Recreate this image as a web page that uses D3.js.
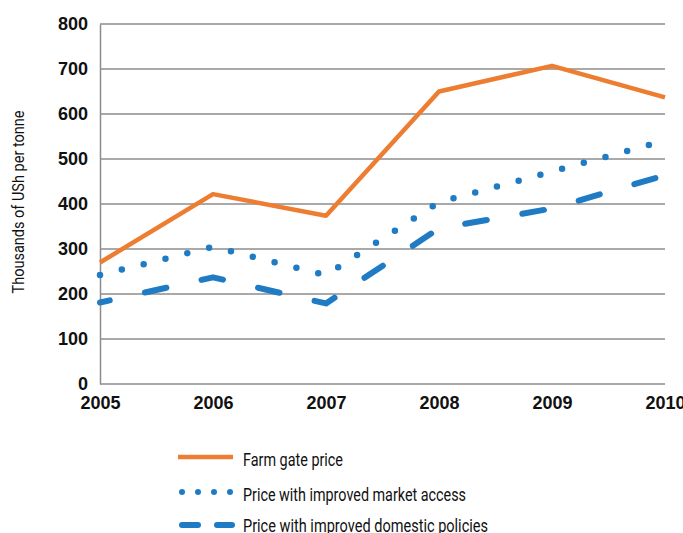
<!DOCTYPE html>
<html>
<head>
<meta charset="utf-8">
<script src="https://cdn.jsdelivr.net/npm/d3@7"></script>
<style>
  body { margin: 0; background: #fff; }
  .tick text { font-family: "Liberation Sans", Arial, sans-serif; font-weight: bold; }
  .lbl { font-family: Roboto, "Open Sans", sans-serif; }
</style>
</head>
<body>
<script>
var w = 683;
var h = 533;

var margin = { top: 24, left: 100, right: 18, bottom: 149 };

var years = [2005, 2006, 2007, 2008, 2009, 2010];
var farmGate = [270, 422, 374, 650, 707, 637];
var marketAccess = [242, 305, 242, 404, 472, 541];
var domestic = [181, 237, 179, 346, 390, 464];
var yTicks = [0, 100, 200, 300, 400, 500, 600, 700, 800];

var orange = "#ED7D31";
var blue = "#1F7BC4";

var x = d3.scaleLinear()
  .domain([2005, 2010])
  .range([margin.left, w - margin.right]);

var y = d3.scaleLinear()
  .domain([0, 800])
  .range([h - margin.bottom, margin.top]);

var svg = d3.select("body").append("svg")
  .attr("width", w)
  .attr("height", h);

// gridlines
svg.append("g")
  .selectAll("line")
  .data(yTicks)
  .enter()
  .append("line")
  .attr("x1", x(2005))
  .attr("x2", x(2010))
  .attr("y1", function (d) { return y(d); })
  .attr("y2", function (d) { return y(d); })
  .attr("stroke", "#8c8c8c")
  .attr("stroke-width", 1.5);

// y axis
var yAxis = svg.append("g")
  .attr("transform", "translate(" + x(2005) + ",0)")
  .call(d3.axisLeft(y).tickValues(yTicks).tickSize(0).tickPadding(12));
yAxis.select(".domain").attr("stroke", "#8c8c8c").attr("stroke-width", 1.5);
yAxis.selectAll("text").attr("font-size", 18).attr("fill", "#111");

// x axis (labels only)
var xAxis = svg.append("g")
  .attr("transform", "translate(0," + y(0) + ")")
  .call(d3.axisBottom(x).tickValues(years).tickFormat(d3.format("d")).tickSize(0).tickPadding(12));
xAxis.select(".domain").remove();
xAxis.selectAll("text").attr("font-size", 18).attr("fill", "#111");

svg.append("text")
  .attr("class", "lbl")
  .attr("transform", "translate(24,202) rotate(-90)")
  .attr("text-anchor", "middle")
  .attr("font-size", 17)
  .attr("textLength", 183)
  .attr("lengthAdjust", "spacingAndGlyphs")
  .attr("fill", "#111")
  .text("Thousands of USh per tonne");

var line = d3.line()
  .x(function (d, i) { return x(years[i]); })
  .y(function (d) { return y(d); });

var series = [
  { name: "Farm gate price", values: farmGate, color: orange, width: 4.5, dash: null, cap: "butt", len: 100 },
  { name: "Price with improved market access", values: marketAccess, color: blue, width: 6.5, dash: "0 22.5", cap: "round", len: 223 },
  { name: "Price with improved domestic policies", values: domestic, color: blue, width: 6, dash: "22 36", cap: "round", offset: 12, len: 245 }
];

series.slice().reverse().forEach(function (s) {
  svg.append("path")
    .datum(s.values)
    .attr("d", line)
    .attr("fill", "none")
    .attr("stroke", s.color)
    .attr("stroke-width", s.width)
    .attr("stroke-linecap", s.cap)
    .attr("stroke-linejoin", "round")
    .attr("stroke-dasharray", s.dash)
    .attr("stroke-dashoffset", s.offset || 0);
});

// legend
var legendY = [457, 492, 525];
var legendDash = [null, "0 16", "16 19"];
var legend = svg.append("g")
  .selectAll("g")
  .data(series)
  .enter()
  .append("g")
  .attr("transform", function (d, i) { return "translate(0," + legendY[i] + ")"; });

legend.append("line")
  .attr("x1", function (d, i) { return i == 0 ? 178 : 182; })
  .attr("x2", function (d, i) { return i == 0 ? 233 : 232; })
  .attr("stroke", function (d) { return d.color; })
  .attr("stroke-width", function (d, i) { return i == 0 ? 4.5 : 6; })
  .attr("stroke-linecap", function (d) { return d.cap; })
  .attr("stroke-dasharray", function (d, i) { return legendDash[i]; });

legend.append("text")
  .attr("class", "lbl")
  .attr("x", 243)
  .attr("y", function (d, i) { return i == 2 ? 7 : 9; })
  .attr("font-size", 19)
  .attr("textLength", function (d) { return d.len; })
  .attr("lengthAdjust", "spacingAndGlyphs")
  .attr("fill", "#111")
  .text(function (d) { return d.name; });
</script>
</body>
</html>
